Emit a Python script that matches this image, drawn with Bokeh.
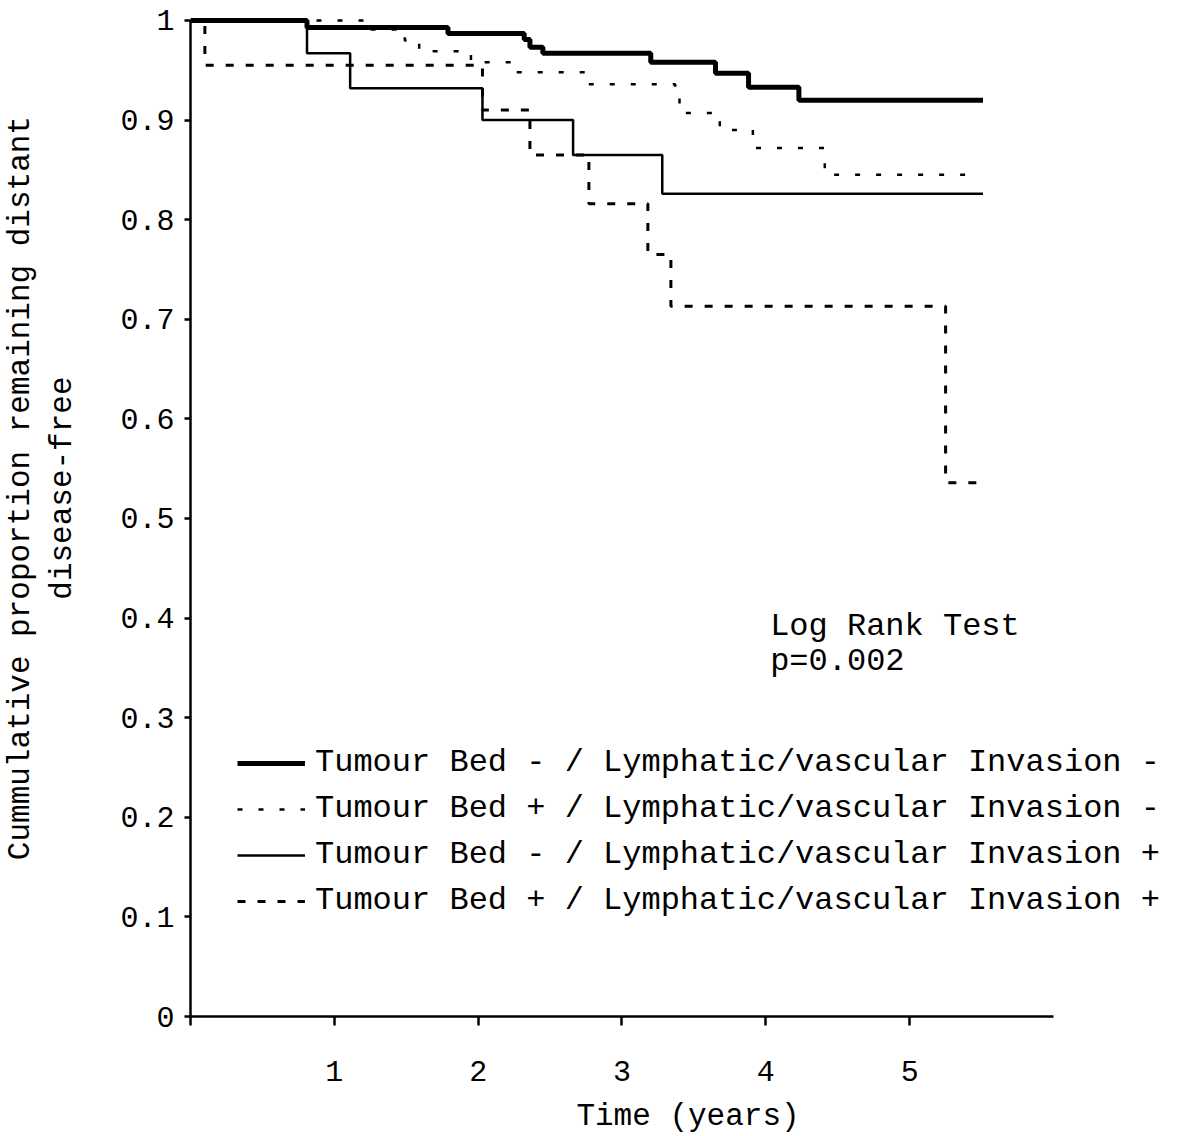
from bokeh.plotting import figure
from bokeh.models import FixedTicker, Label, Legend, LegendItem, Range1d
from bokeh.embed import file_html
from bokeh.resources import INLINE

# ---- data ----
# Tumour Bed - / LVI -
t_neg_neg = [0.0, 0.81, 1.79, 2.32, 2.36, 2.45, 3.20, 3.65, 3.88, 4.23, 5.51]
s_neg_neg = [1.0, 0.993, 0.987, 0.981, 0.973, 0.967, 0.958, 0.947, 0.933, 0.920, 0.920]
# Tumour Bed + / LVI -
t_pos_neg = [0.0, 1.25, 1.49, 1.59, 1.95, 2.24, 2.75, 3.37, 3.40, 3.68, 3.91, 4.41, 5.42]
s_pos_neg = [1.0, 0.991, 0.980, 0.969, 0.958, 0.948, 0.936, 0.925, 0.907, 0.890, 0.872, 0.845, 0.845]
# Tumour Bed - / LVI +
t_neg_pos = [0.0, 0.81, 1.11, 2.03, 2.66, 3.28, 5.51]
s_neg_pos = [1.0, 0.967, 0.932, 0.900, 0.865, 0.826, 0.826]
# Tumour Bed + / LVI +
t_pos_pos = [0.0, 0.10, 2.03, 2.36, 2.77, 3.18, 3.34, 5.25, 5.49]
s_pos_pos = [1.0, 0.955, 0.910, 0.865, 0.816, 0.765, 0.713, 0.536, 0.536]

labels = [
    "Tumour Bed - / Lymphatic/vascular Invasion -",
    "Tumour Bed + / Lymphatic/vascular Invasion -",
    "Tumour Bed - / Lymphatic/vascular Invasion +",
    "Tumour Bed + / Lymphatic/vascular Invasion +",
]
x_ticks = [0, 1, 2, 3, 4, 5]
y_ticks = [0, 0.1, 0.2, 0.3, 0.4, 0.5, 0.6, 0.7, 0.8, 0.9, 1.0]
y_title_lines = ["Cummulative proportion remaining distant", "disease-free"]
x_title = "Time (years)"

FONT = "Liberation Mono"
PAD = "\u00a0" * 3  # shifts the centred title slightly upwards, as in the reference

p = figure(width=1185, height=1136, x_range=Range1d(0, 6.918), y_range=Range1d(0, 1.005),
           output_backend="svg", toolbar_location=None,
           min_border_left=190, min_border_right=0, min_border_top=15, min_border_bottom=119)
p.outline_line_color = None
p.grid.visible = False
p.background_fill_color = "white"
p.border_fill_color = "white"

r1 = p.step(t_neg_neg, s_neg_neg, mode="after", line_color="black", line_width=5)
r2 = p.step(t_pos_neg, s_pos_neg, mode="after", line_color="black", line_width=2.5, line_dash="5 16")
r3 = p.step(t_neg_pos, s_neg_pos, mode="after", line_color="black", line_width=2.5)
r4 = p.step(t_pos_pos, s_pos_pos, mode="after", line_color="black", line_width=3, line_dash="8 12")

for ax in (p.xaxis[0], p.yaxis[0]):
    ax.axis_line_width = 2.5
    ax.axis_line_color = "black"
    ax.major_tick_line_width = 2.5
    ax.major_tick_line_color = "black"
    ax.major_tick_in = 0
    ax.minor_tick_in = 0
    ax.minor_tick_out = 0
    ax.major_label_text_font = FONT
    ax.major_label_text_font_size = "30px"
    ax.major_label_text_color = "black"
    ax.axis_label_text_font = FONT
    ax.axis_label_text_font_size = "31px"
    ax.axis_label_text_font_style = "normal"
    ax.axis_label_text_color = "black"

p.xaxis.ticker = FixedTicker(ticks=x_ticks)
p.xaxis.major_label_overrides = {0: ""}
p.xaxis.major_tick_out = 9
p.xaxis.major_label_standoff = 35
p.xaxis.bounds = (0, 6)
p.xaxis.axis_label = x_title
p.xaxis.axis_label_standoff = 15

p.yaxis.ticker = FixedTicker(ticks=y_ticks)
p.yaxis.major_label_overrides = {0: "0", 1: "1"}
p.yaxis.major_tick_out = 6
p.yaxis.major_label_standoff = 10
p.yaxis.bounds = (0, 1)
p.yaxis.axis_label = "\n".join(PAD + s for s in y_title_lines)
p.yaxis.axis_label_standoff = 37

legend = Legend(items=[LegendItem(label=l, renderers=[r]) for l, r in zip(labels, [r1, r2, r3, r4])],
                location=(47, 97), orientation="vertical",
                border_line_alpha=0, background_fill_alpha=0, padding=0, margin=0,
                spacing=9, glyph_width=68, glyph_height=36, label_height=36, label_standoff=10,
                label_text_font=FONT, label_text_font_size="32px", label_text_color="black")
p.add_layout(legend)

p.add_layout(Label(x=4.03, y=0.392, text="Log Rank Test", text_font=FONT, text_font_size="32px",
                   text_baseline="alphabetic", text_align="left", text_color="black"))
p.add_layout(Label(x=4.03, y=0.356, text="p=0.002", text_font=FONT, text_font_size="32px",
                   text_baseline="alphabetic", text_align="left", text_color="black"))

open("out.html", "w").write(file_html(p, INLINE))
